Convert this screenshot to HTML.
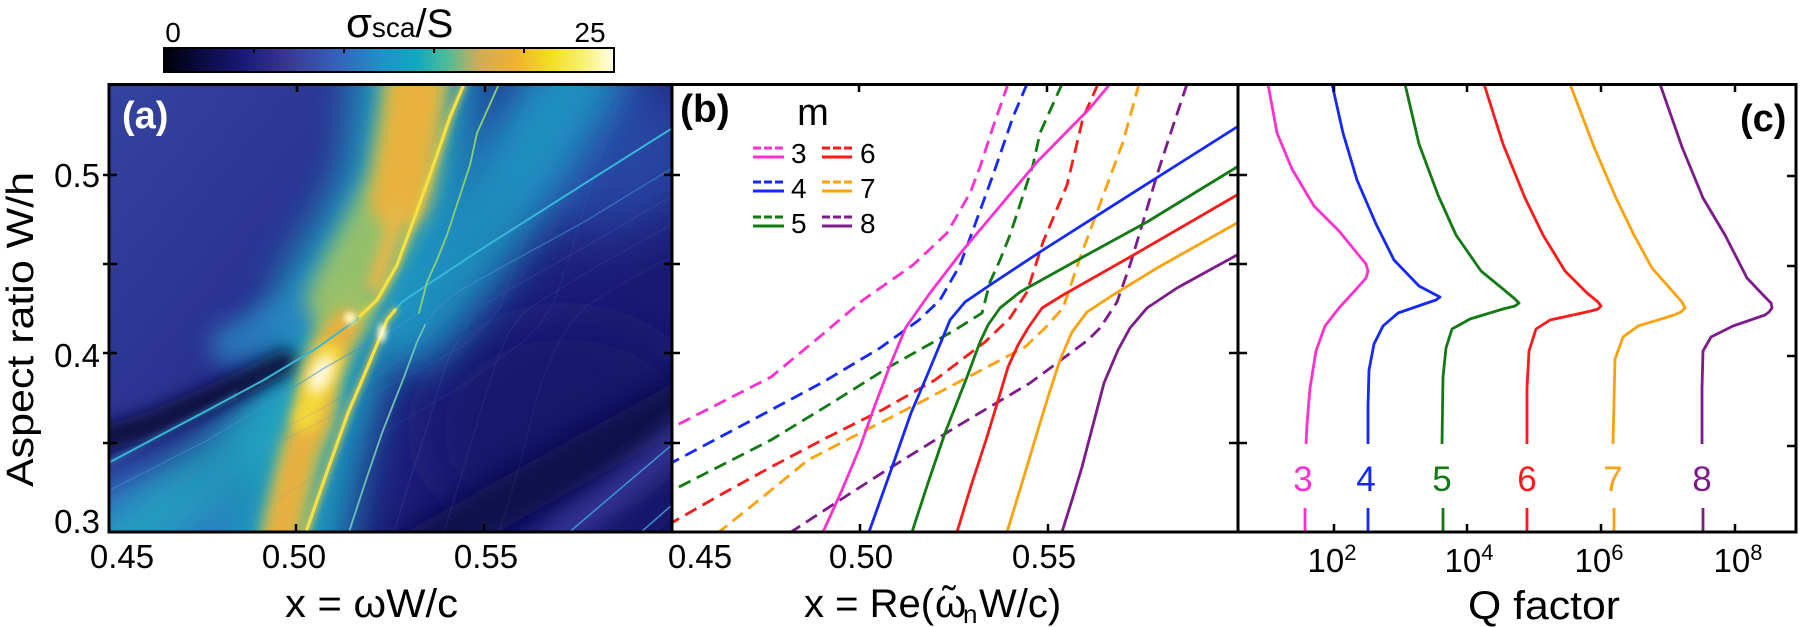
<!DOCTYPE html>
<html><head><meta charset="utf-8"><style>
html,body{margin:0;padding:0;background:#fff;}
svg{display:block;font-family:"Liberation Sans","DejaVu Sans",sans-serif;}
</style></head><body>
<svg width="1801" height="627" viewBox="0 0 1801 627" xmlns="http://www.w3.org/2000/svg">
<defs>
<linearGradient id="gC" x1="0" y1="0" x2="1" y2="0">
<stop offset="0" stop-color="#000008"/><stop offset="0.08" stop-color="#0a0a40"/><stop offset="0.18" stop-color="#1a1a78"/><stop offset="0.28" stop-color="#3a3a95"/><stop offset="0.38" stop-color="#3560b8"/><stop offset="0.48" stop-color="#2090c8"/><stop offset="0.56" stop-color="#10a8c0"/><stop offset="0.63" stop-color="#50bc98"/><stop offset="0.70" stop-color="#d0ac58"/><stop offset="0.78" stop-color="#f0b030"/><stop offset="0.86" stop-color="#f2e020"/><stop offset="0.93" stop-color="#f8f070"/><stop offset="1" stop-color="#ffffe8"/>
</linearGradient>
<linearGradient id="gA" gradientUnits="userSpaceOnUse" x1="109" y1="84" x2="672" y2="532">
<stop offset="0" stop-color="#34449f"/><stop offset="0.45" stop-color="#272c8a"/><stop offset="0.75" stop-color="#1b1b75"/><stop offset="1" stop-color="#17176b"/>
</linearGradient>
<clipPath id="ca"><rect x="109" y="84" width="563" height="448"/></clipPath>
<filter id="f3" filterUnits="userSpaceOnUse" x="0" y="0" width="800" height="627"><feGaussianBlur stdDeviation="3"/></filter>
<filter id="f6" filterUnits="userSpaceOnUse" x="0" y="0" width="800" height="627"><feGaussianBlur stdDeviation="6"/></filter>
<filter id="f8" filterUnits="userSpaceOnUse" x="0" y="0" width="800" height="627"><feGaussianBlur stdDeviation="8"/></filter>
<filter id="f10" filterUnits="userSpaceOnUse" x="0" y="0" width="800" height="627"><feGaussianBlur stdDeviation="10"/></filter>
<filter id="f12" filterUnits="userSpaceOnUse" x="0" y="0" width="800" height="627"><feGaussianBlur stdDeviation="12"/></filter>
<filter id="f16" filterUnits="userSpaceOnUse" x="0" y="0" width="800" height="627"><feGaussianBlur stdDeviation="16"/></filter>
<filter id="f20" filterUnits="userSpaceOnUse" x="0" y="0" width="800" height="627"><feGaussianBlur stdDeviation="20"/></filter>
<filter id="f28" filterUnits="userSpaceOnUse" x="0" y="0" width="800" height="627"><feGaussianBlur stdDeviation="28"/></filter>

<polyline id="M3d" points="1008,84 993,127 980,167 970,193 947,233 913,265 863,300 817,339 771,377 722,402 673,427"/>
<polyline id="M4d" points="1027,84 1013,117 993,175 973,230 960,265 940,300 919,320 880,348 825,381 771,410 722,436 673,462"/>
<polyline id="M5d" points="1062,84 1040,133 1033,165 1010,235 1000,260 990,282 982,313 955,330 889,367 830,404 771,440 722,465 673,490"/>
<polyline id="M6d" points="1098,84 1083,118 1067,185 1043,242 1027,292 1010,318 985,342 935,380 882,410 826,438 771,467 722,494 673,522"/>
<polyline id="M7d" points="1139,84 1123,142 1097,212 1080,258 1063,308 1045,328 1025,347 972,375 919,403 864,431 808,460 764,496 719,532"/>
<polyline id="M8d" points="1187,84 1170,135 1157,175 1143,222 1130,265 1117,302 1100,328 1088,340 1030,383 993,405 956,427 919,450 882,473 837,502 791,532"/>
<polyline id="M3s" points="1110,84 1090,108 1037,162 990,218 963,250 930,293 906,327 891,363 875,405 860,447 842,490 823,532"/>
<polyline id="M4s" points="1237,127 1150,182 1043,250 990,285 965,302 950,320 941,342 926,378 911,413 890,473 869,532"/>
<polyline id="M5s" points="1237,167 1147,222 1083,257 1020,292 1000,308 988,325 980,342 967,377 956,405 945,433 928,483 912,532"/>
<polyline id="M6s" points="1237,195 1137,253 1063,295 1042,308 1028,328 1018,345 1008,367 997,404 986,440 971,486 957,532"/>
<polyline id="M7s" points="1237,223 1157,268 1113,295 1087,312 1072,332 1060,360 1048,397 1037,433 1022,483 1007,532"/>
<polyline id="M8s" points="1237,255 1177,288 1147,308 1130,328 1118,350 1104,383 1093,425 1082,467 1072,500 1062,532"/>
</defs>

<!-- ================= Panel (a) heatmap ================= -->
<g clip-path="url(#ca)" fill="none" stroke-linecap="round" stroke-linejoin="round">
<rect x="109" y="84" width="563" height="448" fill="url(#gA)"/>
<ellipse cx="160" cy="530" rx="100" ry="55" fill="#3070c2" filter="url(#f20)"/>
<ellipse cx="600" cy="150" rx="110" ry="80" fill="#2c4fac" opacity=".8" filter="url(#f28)"/>
<ellipse cx="565" cy="430" rx="140" ry="110" fill="#15156a" opacity=".75" filter="url(#f28)"/>
<!-- teal halos -->
<polyline points="418,60 412,120 405,184 372,250 340,300 320,375 300,450 284,545" stroke="#1fa2c4" stroke-width="125" opacity=".9" filter="url(#f20)"/>
<polyline points="230,345 270,325 310,305 345,288" stroke="#2a86c4" stroke-width="40" opacity=".8" filter="url(#f12)"/>
<polyline points="410,322 445,280 485,225 525,160 565,95 585,60" stroke="#1a9cc6" stroke-width="90" opacity=".85" filter="url(#f20)"/>
<polyline points="120,548 170,505 225,462 275,425 310,392" stroke="#22a4c0" stroke-width="70" opacity=".8" filter="url(#f16)"/>
<!-- dark stripes -->
<polyline points="100,440 150,425 200,403 250,380 285,362" stroke="#08083a" stroke-width="26" opacity=".95" filter="url(#f8)"/>
<polyline points="420,550 500,505 580,460 690,400" stroke="#0b0b45" stroke-width="45" filter="url(#f16)"/>
<polyline points="540,550 620,490 690,430" stroke="#3a3a9c" stroke-width="34" opacity=".75" filter="url(#f10)"/>
<!-- main band -->
<polyline points="418,70 412,120 400,184 375,234 355,270 340,300" stroke="#94c06c" stroke-width="66" filter="url(#f10)"/>
<polyline points="282,545 285,520 294,484 302,451 315,417 321,374 335,340 350,310" stroke="#9ec068" stroke-width="44" filter="url(#f8)"/>
<polyline points="420,70 416,84 410,130 403,175 398,200" stroke="#e9b23c" stroke-width="54" filter="url(#f8)"/>
<polyline points="396,210 390,240 383,262 375,285" stroke="#e4b848" stroke-width="16" filter="url(#f6)"/>
<polyline points="278,545 281,532 292,484 300,451 315,417 321,374 332,345 345,325" stroke="#e6b040" stroke-width="30" filter="url(#f6)"/>
<polyline points="305,420 318,385 330,355" stroke="#f4d838" stroke-width="26" filter="url(#f6)"/>
<ellipse cx="321" cy="374" rx="10" ry="20" transform="rotate(25 321 374)" fill="#fffbe6" filter="url(#f6)"/>
<!-- resonance lines (panel b curves shifted) -->
<g transform="translate(-563,0)">
<use href="#M6s" stroke="#5a78d8" stroke-width="1.2" opacity=".18"/>
<use href="#M6d" stroke="#5a78d8" stroke-width="1.2" opacity=".18"/>
<use href="#M7s" stroke="#5a78d8" stroke-width="1.2" opacity=".15"/>
<use href="#M7d" stroke="#5a78d8" stroke-width="1.2" opacity=".15"/>
<use href="#M8s" stroke="#5a78d8" stroke-width="1.2" opacity=".12"/>
<use href="#M8d" stroke="#5a78d8" stroke-width="1.2" opacity=".12"/>
<use href="#M5s" stroke="#3f8fd0" stroke-width="1.4" opacity=".6"/>
<use href="#M5d" stroke="#3f8fd0" stroke-width="1.4" opacity=".55"/>
<use href="#M4s" stroke="#40c0e0" stroke-width="5" opacity=".3" filter="url(#f3)"/>
<use href="#M4d" stroke="#40c0e0" stroke-width="5" opacity=".3" filter="url(#f3)"/>
<use href="#M4s" stroke="#35b8d8" stroke-width="2"/>
<use href="#M4d" stroke="#35b8d8" stroke-width="2"/>
</g>
<polyline points="349,532 365,483 382,433 393,405 404,377 417,342 425,325" stroke="#70c0b0" stroke-width="1.8"/>
<polyline points="419,313 427,282 437,260 447,235 470,165 477,133 499,84" stroke="#8ccf70" stroke-width="1.8"/>
<polyline points="306,532 327,472 348,413 363,378 378,342 387,320 395,310" stroke="#f0d040" stroke-width="8" opacity=".55" filter="url(#f3)"/>
<polyline points="360,316 377,300 397,265 410,230 430,175 450,117 464,84" stroke="#f0d040" stroke-width="8" opacity=".55" filter="url(#f3)"/>
<polyline points="306,532 327,472 348,413 363,378 378,342 387,320 395,310" stroke="#f7e040" stroke-width="3.2"/>
<polyline points="360,316 377,300 397,265 410,230 430,175 450,117 464,84" stroke="#f7e040" stroke-width="3.2"/>
<ellipse cx="382" cy="333" rx="4" ry="9" fill="#fffbe0" filter="url(#f3)"/>
<ellipse cx="350" cy="318" rx="6" ry="6" fill="#fff6c0" filter="url(#f3)"/>
<polyline points="560,540 680,438" stroke="#40a8e0" stroke-width="1.5" opacity=".85"/>
<polyline points="632,540 680,498" stroke="#40a8e0" stroke-width="1.5" opacity=".85"/>
</g>
<text x="122" y="128" font-size="38" font-weight="bold" fill="#fff">(a)</text>

<!-- ================= Panel (b) curves ================= -->
<g fill="none" stroke-width="2.8" stroke-linejoin="round">
<g stroke-dasharray="13 7">
<use href="#M3d" stroke="#ff30d0"/>
<use href="#M4d" stroke="#1428ff"/>
<use href="#M5d" stroke="#127a12"/>
<use href="#M6d" stroke="#ff1a1a"/>
<use href="#M7d" stroke="#ffa10a"/>
<use href="#M8d" stroke="#7d1a8c"/>
</g>
<use href="#M3s" stroke="#ff30d0"/>
<use href="#M4s" stroke="#1428ff"/>
<use href="#M5s" stroke="#127a12"/>
<use href="#M6s" stroke="#ff1a1a"/>
<use href="#M7s" stroke="#ffa10a"/>
<use href="#M8s" stroke="#7d1a8c"/>
</g>
<text x="680" y="122" font-size="39" font-weight="bold">(b)</text>
<text x="813" y="125" font-size="38" text-anchor="middle">m</text>
<g stroke-width="3">
<line x1="753" y1="148" x2="784" y2="148" stroke="#ff30d0" stroke-dasharray="8 3"/>
<line x1="753" y1="157" x2="784" y2="157" stroke="#ff30d0"/>
<line x1="753" y1="182" x2="784" y2="182" stroke="#1428ff" stroke-dasharray="8 3"/>
<line x1="753" y1="191" x2="784" y2="191" stroke="#1428ff"/>
<line x1="753" y1="217" x2="784" y2="217" stroke="#127a12" stroke-dasharray="8 3"/>
<line x1="753" y1="226" x2="784" y2="226" stroke="#127a12"/>
<line x1="822" y1="148" x2="852" y2="148" stroke="#ff1a1a" stroke-dasharray="8 3"/>
<line x1="822" y1="157" x2="852" y2="157" stroke="#ff1a1a"/>
<line x1="822" y1="182" x2="852" y2="182" stroke="#ffa10a" stroke-dasharray="8 3"/>
<line x1="822" y1="191" x2="852" y2="191" stroke="#ffa10a"/>
<line x1="822" y1="217" x2="852" y2="217" stroke="#7d1a8c" stroke-dasharray="8 3"/>
<line x1="822" y1="226" x2="852" y2="226" stroke="#7d1a8c"/>
</g>
<g font-size="28">
<text x="791" y="163">3</text><text x="791" y="198">4</text><text x="791" y="233">5</text>
<text x="860" y="163">6</text><text x="860" y="198">7</text><text x="860" y="233">8</text>
</g>

<!-- ================= Panel (c) ================= -->
<g fill="none" stroke-width="2.8" stroke-linejoin="round">
<polyline stroke="#ff30d0" points="1268,84 1277,133 1292,169 1314,206 1339,231 1357,253 1366,264 1368,271 1366,278 1359,286 1339,308 1325,326 1316,351 1310,388 1307,424 1306,444"/>
<polyline stroke="#1428ff" points="1332,84 1343,133 1357,180 1376,224 1394,260 1419,286 1436,295 1440,297 1436,300 1427,303 1398,313 1383,326 1374,344 1369,370 1368,406 1368,444"/>
<polyline stroke="#127a12" points="1405,84 1419,144 1438,195 1456,235 1481,271 1503,289 1515,299 1519,303 1515,306 1503,309 1470,319 1452,329 1446,348 1443,377 1442,444"/>
<polyline stroke="#ff1a1a" points="1484,84 1503,144 1525,198 1543,235 1565,271 1587,293 1598,302 1601,306 1598,309 1591,311 1550,320 1536,329 1529,351 1527,388 1527,444"/>
<polyline stroke="#ffa10a" points="1570,84 1594,147 1616,198 1634,235 1652,268 1674,293 1682,302 1685,308 1681,312 1674,315 1638,326 1623,337 1615,359 1613,444"/>
<polyline stroke="#7d1a8c" points="1660,84 1682,147 1703,198 1725,235 1747,278 1765,297 1771,303 1772,308 1769,312 1765,315 1733,326 1711,337 1703,351 1702,388 1702,444"/>
<line x1="1305" y1="508" x2="1305" y2="532" stroke="#ff30d0"/>
<line x1="1368" y1="508" x2="1368" y2="532" stroke="#1428ff"/>
<line x1="1443" y1="508" x2="1443" y2="532" stroke="#127a12"/>
<line x1="1527" y1="508" x2="1527" y2="532" stroke="#ff1a1a"/>
<line x1="1614" y1="508" x2="1614" y2="532" stroke="#ffa10a"/>
<line x1="1703" y1="508" x2="1703" y2="532" stroke="#7d1a8c"/>
</g>
<g font-size="35" text-anchor="middle">
<text x="1303" y="491" fill="#ff30d0">3</text>
<text x="1366" y="491" fill="#1428ff">4</text>
<text x="1442" y="491" fill="#127a12">5</text>
<text x="1527" y="491" fill="#ff1a1a">6</text>
<text x="1613" y="491" fill="#ffa10a">7</text>
<text x="1702" y="491" fill="#7d1a8c">8</text>
</g>
<text x="1740" y="131" font-size="38" font-weight="bold">(c)</text>

<rect x="672" y="60" width="1130" height="23" fill="#fff"/>

<!-- ================= Frames & ticks ================= -->
<g stroke="#000" fill="none">
<rect x="109" y="84.5" width="1687" height="447.5" stroke-width="3"/>
<line x1="672" y1="84" x2="672" y2="532" stroke-width="3"/>
<line x1="1238" y1="84" x2="1238" y2="532" stroke-width="3"/>
<g stroke-width="2.5">
<path d="M103 175H117M103 264H117M103 353H117M103 443H117"/>
<path d="M297 84V92M485 84V92M296 532V524M484 532V524"/>
<path d="M664 175H680M664 264H680M664 353H680M664 443H680"/>
<path d="M859 84V92M1047 84V92M860 532V524M1048 532V524"/>
<path d="M1229 175H1247M1229 264H1247M1229 353H1247M1229 443H1247"/>
<path d="M1334 84V92M1467 84V92M1601 84V92M1735 84V92"/>
<path d="M1334 532V524M1467 532V524M1601 532V524M1735 532V524"/>
<path d="M1796 176H1787M1796 266H1787M1796 356H1787M1796 446H1787"/>
</g>
</g>

<!-- ================= Colorbar ================= -->
<rect x="164" y="48" width="450" height="24" fill="url(#gC)" stroke="#000" stroke-width="2"/>
<path d="M254 48V53M344 48V53M434 48V53M524 48V53" stroke="#000" stroke-width="2"/>
<text x="173" y="42" font-size="28" text-anchor="middle">0</text>
<text x="590" y="42" font-size="28" text-anchor="middle">25</text>
<text x="346" y="37"><tspan font-size="42">σ</tspan><tspan font-size="28">sca</tspan><tspan font-size="40">/S</tspan></text>

<!-- ================= Tick labels ================= -->
<g font-size="33">
<text x="100" y="187" text-anchor="end">0.5</text>
<text x="100" y="367" text-anchor="end">0.4</text>
<text x="100" y="533" text-anchor="end">0.3</text>
<text x="122" y="568" text-anchor="middle">0.45</text>
<text x="294" y="568" text-anchor="middle">0.50</text>
<text x="486" y="568" text-anchor="middle">0.55</text>
<text x="700" y="568" text-anchor="middle">0.45</text>
<text x="861" y="568" text-anchor="middle">0.50</text>
<text x="1044" y="568" text-anchor="middle">0.55</text>
<text x="1332" y="572" text-anchor="middle">10<tspan font-size="22" dy="-12">2</tspan></text>
<text x="1469" y="572" text-anchor="middle">10<tspan font-size="22" dy="-12">4</tspan></text>
<text x="1599" y="572" text-anchor="middle">10<tspan font-size="22" dy="-12">6</tspan></text>
<text x="1738" y="572" text-anchor="middle">10<tspan font-size="22" dy="-12">8</tspan></text>
</g>

<!-- ================= Axis labels ================= -->
<text x="285" y="617" font-size="40" textLength="173" lengthAdjust="spacingAndGlyphs">x = ωW/c</text>
<text x="804" y="617" font-size="40">x = Re(</text>
<text x="935" y="617" font-size="40">ω</text>
<text x="949" y="614" font-size="40" text-anchor="middle">˜</text>
<text x="963" y="623" font-size="26">n</text>
<text x="979" y="617" font-size="40">W/c)</text>
<text x="1468" y="619" font-size="40" textLength="152" lengthAdjust="spacingAndGlyphs">Q factor</text>
<text transform="translate(33,487) rotate(-90)" font-size="38" textLength="315" lengthAdjust="spacingAndGlyphs">Aspect ratio W/h</text>
</svg>
</body></html>
